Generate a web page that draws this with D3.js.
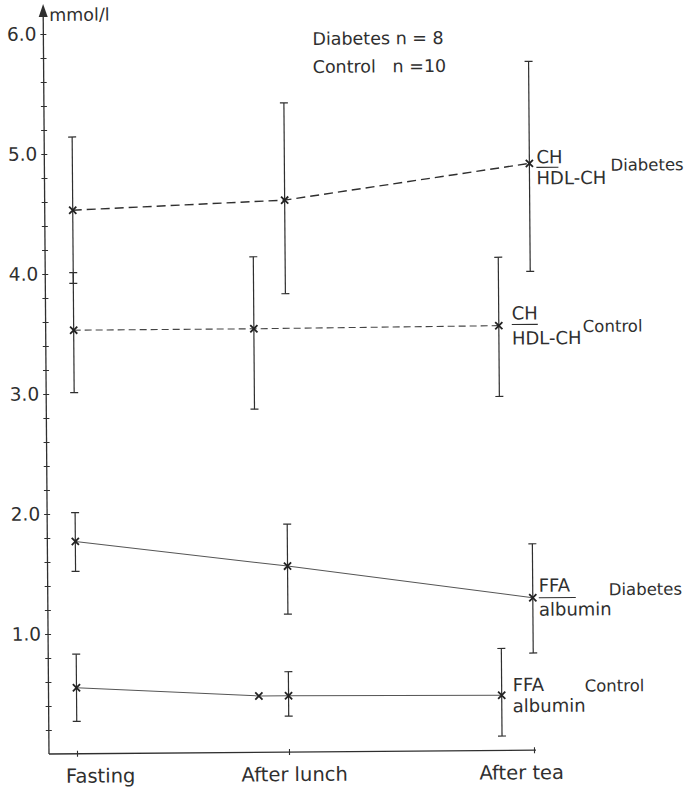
<!DOCTYPE html>
<html>
<head>
<meta charset="utf-8">
<script src="https://cdn.jsdelivr.net/npm/d3@7"></script>
<style>
  body { margin: 0; background: #fff; }
  svg text { font-family: "DejaVu Sans", sans-serif; fill: #2f2f2f; }
</style>
</head>
<body>
<svg id="chart" width="688" height="788"></svg>
<script>
// ---- data ----------------------------------------------------------------
const categories = ["Fasting", "After lunch", "After tea"];
const yTickValues = [1, 2, 3, 4, 5, 6];
const yTickLabels = ["1.0", "2.0", "3.0", "4.0", "5.0", "6.0"];
const yUnit = "mmol/l";
const groupNotes = ["Diabetes n = 8", "Control   n =10"];

// CH / HDL-CH ratio, diabetic group (mean, mean + SD, mean - SD)
const chDiabTime = [0, 1, 2];
const chDiabMean = [4.53, 4.60, 4.89];
const chDiabHigh = [5.14, 5.41, 5.74];
const chDiabLow  = [3.92, 3.82, 3.99];

// CH / HDL-CH ratio, control group
const chCtrlTime = [0, 0.85, 1.87];
const chCtrlMean = [3.53, 3.53, 3.54];
const chCtrlHigh = [4.01, 4.13, 4.11];
const chCtrlLow  = [3.01, 2.86, 2.95];

// FFA / albumin ratio, diabetic group
const ffaDiabTime = [0, 1, 2];
const ffaDiabMean = [1.77, 1.55, 1.27];
const ffaDiabHigh = [2.01, 1.90, 1.72];
const ffaDiabLow  = [1.52, 1.15, 0.81];

// FFA / albumin ratio, control group (one extra reading without SD)
const ffaCtrlTime = [0, 0.86, 1, 1.87];
const ffaCtrlMean = [0.55, 0.47, 0.47, 0.46];
const ffaCtrlHigh = [0.83, null, 0.67, 0.85];
const ffaCtrlLow  = [0.27, null, 0.30, 0.12];

// ---- layout ----------------------------------------------------------------
const svg = d3.select("#chart");
const ink = "#2f2f2f";
const origin = [49, 754];

const x = d3.scaleLinear().domain([0, 1, 2]).range([77, 289, 534]);
const y = d3.scaleLinear().domain([0, 6]).range([754, 34]);

// the whole drawing sits very slightly askew, as the printed figure does
const g = svg.append("g")
  .attr("transform", `rotate(-0.45 ${origin[0]} ${origin[1]})`);

function build(time, mean, high, low) {
  return time.map((t, i) => ({ t, m: mean[i], hi: high[i], lo: low[i] }));
}

const series = [
  { key: "chDiab", pts: build(chDiabTime, chDiabMean, chDiabHigh, chDiabLow), dash: "9,5", w: 1.4, c: ink },
  { key: "chCtrl", pts: build(chCtrlTime, chCtrlMean, chCtrlHigh, chCtrlLow), dash: "7,4", w: 1.1, c: "#444" },
  { key: "ffaDiab", pts: build(ffaDiabTime, ffaDiabMean, ffaDiabHigh, ffaDiabLow), dash: null, w: 1.0, c: "#555" },
  { key: "ffaCtrl", pts: build(ffaCtrlTime, ffaCtrlMean, ffaCtrlHigh, ffaCtrlLow), dash: null, w: 1.0, c: "#555" }
];

// ---- y axis ----------------------------------------------------------------
const yAxisX = origin[0];
const minorTicks = d3.range(1, 31).map(i => +(i * 0.2).toFixed(1));
const yAxis = d3.axisLeft(y)
  .tickValues(minorTicks)
  .tickSize(0)
  .tickPadding(7)
  .tickFormat(d => {
    const k = yTickValues.indexOf(d);
    return k >= 0 ? yTickLabels[k] : "";
  });

const yg = g.append("g").attr("transform", `translate(${yAxisX},0)`).call(yAxis);
yg.select(".domain").remove();
yg.selectAll(".tick line").attr("x1", -3).attr("x2", 3).attr("stroke", ink).attr("stroke-width", 1.1);
yg.selectAll(".tick text")
  .attr("font-size", 18.5)
  .attr("font-family", "DejaVu Sans, sans-serif")
  .attr("fill", ink);

g.append("line")
  .attr("x1", yAxisX).attr("x2", yAxisX)
  .attr("y1", y(0)).attr("y2", 14)
  .attr("stroke", ink).attr("stroke-width", 1.3);
g.append("path")
  .attr("d", `M${yAxisX},4 L${yAxisX - 4.5},17 L${yAxisX + 4.5},17 Z`)
  .attr("fill", ink);
g.append("text")
  .attr("x", yAxisX + 6).attr("y", 21)
  .attr("font-size", 17.5).text(yUnit);

// ---- x axis ----------------------------------------------------------------
const labelShift = [23, 5, -13];
const xAxis = d3.axisBottom(x)
  .tickValues([0, 1, 2])
  .tickSize(0)
  .tickFormat((d, i) => categories[i]);
const xg = g.append("g").attr("transform", `translate(0,${y(0)})`).call(xAxis);
xg.select(".domain").remove();
xg.selectAll(".tick line").attr("y1", -3).attr("y2", 3).attr("stroke", ink).attr("stroke-width", 1.1);
xg.selectAll(".tick text")
  .attr("dy", 0).attr("y", 29)
  .attr("dx", (d, i) => labelShift[i])
  .attr("font-size", 19.5)
  .attr("font-family", "DejaVu Sans, sans-serif")
  .attr("fill", ink);
g.append("line")
  .attr("x1", yAxisX).attr("x2", x(2) + 2)
  .attr("y1", y(0)).attr("y2", y(0))
  .attr("stroke", ink).attr("stroke-width", 1.3);

// ---- series ----------------------------------------------------------------
const line = d3.line().x(d => x(d.t)).y(d => y(d.m));

series.forEach(s => {
  const sg = g.append("g").attr("class", s.key);

  sg.append("path")
    .datum(s.pts)
    .attr("d", line)
    .attr("fill", "none")
    .attr("stroke", s.c)
    .attr("stroke-width", s.w)
    .attr("stroke-dasharray", s.dash);

  const bars = s.pts.filter(d => d.hi != null);
  sg.selectAll(".bar").data(bars).enter().append("line")
    .attr("x1", d => x(d.t)).attr("x2", d => x(d.t))
    .attr("y1", d => y(d.hi)).attr("y2", d => y(d.lo))
    .attr("stroke", ink).attr("stroke-width", 1.2);
  ["hi", "lo"].forEach(k => {
    sg.selectAll(".cap-" + k).data(bars).enter().append("line")
      .attr("x1", d => x(d.t) - 4).attr("x2", d => x(d.t) + 4)
      .attr("y1", d => y(d[k])).attr("y2", d => y(d[k]))
      .attr("stroke", ink).attr("stroke-width", 1.2);
  });

  sg.selectAll(".mark").data(s.pts).enter().append("path")
    .attr("d", d => {
      const cx = x(d.t), cy = y(d.m), r = 3.6;
      return `M${cx - r},${cy - r}L${cx + r},${cy + r}M${cx - r},${cy + r}L${cx + r},${cy - r}`;
    })
    .attr("stroke", "#222").attr("stroke-width", 1.8).attr("fill", "none");
});

// ---- series labels (fraction + group) --------------------------------------
function ratioLabel(s, num, den, group, o) {
  const last = s.pts[s.pts.length - 1];
  const px = x(last.t) + o.dx, py = y(last.m);
  const lg = g.append("g");
  lg.append("text").attr("x", px).attr("y", py + o.num).attr("font-size", o.size).text(num);
  if (o.bar) {
    lg.append("line")
      .attr("x1", px).attr("x2", px + o.bar)
      .attr("y1", py + o.line).attr("y2", py + o.line)
      .attr("stroke", ink).attr("stroke-width", 1.1);
  }
  lg.append("text").attr("x", px).attr("y", py + o.den).attr("font-size", o.size).text(den);
  lg.append("text").attr("x", px + o.gx).attr("y", py + o.gy).attr("font-size", 16.5).text(group);
}

ratioLabel(series[0], "CH", "HDL-CH", "Diabetes",
  { dx: 7, num: 0, line: 4, den: 21, gx: 74, gy: 8, size: 18, bar: 22 });
ratioLabel(series[1], "CH", "HDL-CH", "Control",
  { dx: 13, num: -6, line: -1, den: 19, gx: 71, gy: 7, size: 18, bar: 26 });
ratioLabel(series[2], "FFA", "albumin", "Diabetes",
  { dx: 6, num: -6, line: 0, den: 18, gx: 70, gy: -2, size: 18, bar: 37 });
ratioLabel(series[3], "FFA", "albumin", "Control",
  { dx: 11, num: -4, line: 0, den: 17, gx: 72, gy: -3, size: 18, bar: 0 });

// ---- group sizes -------------------------------------------------------------
g.selectAll(".note").data(groupNotes).enter().append("text")
  .attr("x", 318).attr("y", (d, i) => 47 + i * 28)
  .attr("font-size", 17.5)
  .attr("xml:space", "preserve")
  .style("white-space", "pre")
  .text(d => d);
</script>
</body>
</html>
